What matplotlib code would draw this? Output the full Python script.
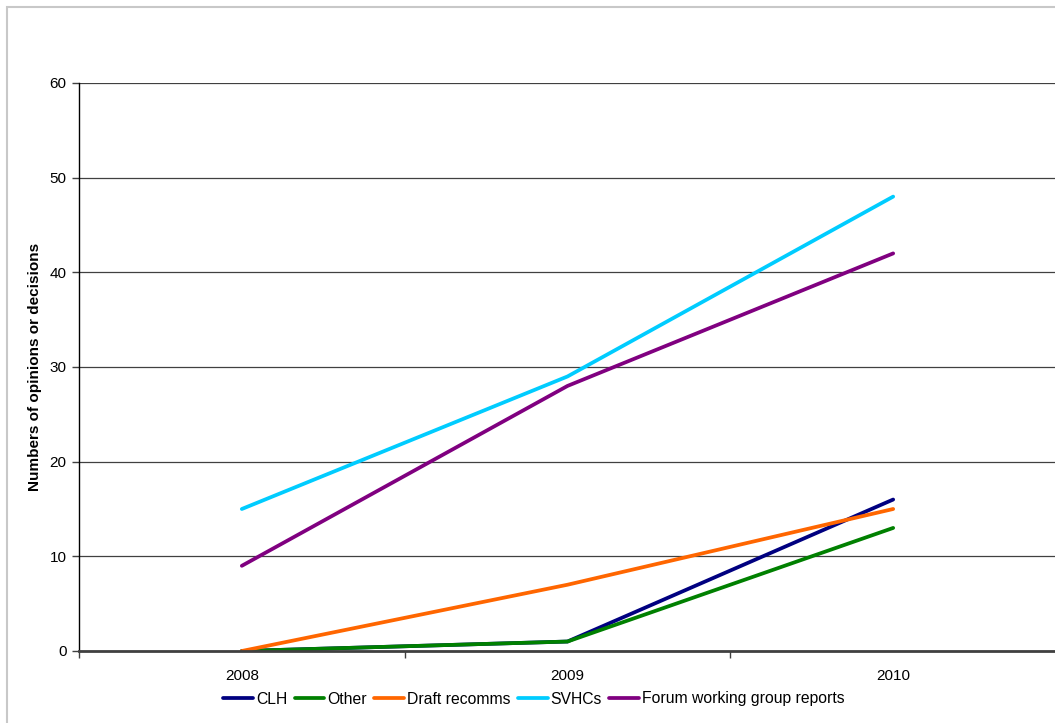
import matplotlib.pyplot as plt
from matplotlib.patches import Rectangle

plt.rcParams['font.family'] = ['Liberation Sans', 'DejaVu Sans']

years = ['2008', '2009', '2010']
clh = [0, 1, 16]
other = [0, 1, 13]
draft_recomms = [0, 7, 15]
svhcs = [15, 29, 48]
forum_reports = [9, 28, 42]

series = [
    ('CLH', clh, '#000080'),
    ('Other', other, '#008000'),
    ('Draft recomms', draft_recomms, '#FF6600'),
    ('SVHCs', svhcs, '#00CCFF'),
    ('Forum working group reports', forum_reports, '#800080'),
]

W, H = 1055, 723
fig = plt.figure(figsize=(W / 100, H / 100), dpi=100)
ax = fig.add_axes([79 / W, 1 - 651 / H, (1056 - 79) / W, (651 - 83) / H])

# outer chart frame
fig.patches.append(Rectangle((7 / W, -0.1), 1.2, 1 - 7 / H + 0.1,
                             transform=fig.transFigure, fill=False,
                             edgecolor='#c8c8c8', linewidth=1.5))

x = list(range(len(years)))
for name, vals, col in series:
    ax.plot(x, vals, color=col, linewidth=2.7, label=name,
            solid_capstyle='round', solid_joinstyle='miter')

ax.set_xlim(-0.5, len(years) - 0.5)
ax.set_ylim(0, 60)
ax.set_yticks(range(0, 61, 10))
ax.set_xticks(x)
ax.set_xticklabels(years)
ax.set_xticks([i - 0.5 for i in range(len(years) + 1)], minor=True)
ax.tick_params(axis='x', which='major', length=0, pad=13, labelsize=11)
ax.tick_params(axis='x', which='minor', length=5, width=1, color='#404040')
ax.tick_params(axis='y', length=5, width=1, color='#404040', labelsize=11, pad=4)

ax.grid(axis='y', color='#404040', linewidth=0.9)
ax.set_axisbelow(True)
for s in ['top', 'right']:
    ax.spines[s].set_visible(False)
ax.spines['left'].set_color('black')
ax.spines['left'].set_linewidth(1)
ax.spines['bottom'].set_color('#404040')
ax.spines['bottom'].set_linewidth(2)

ax.set_ylabel('Numbers of opinions or decisions', fontsize=11,
              fontweight='bold')
ax.yaxis.set_label_coords((42 - 79) / (1056 - 79), 0.5)

fig.legend(loc='center', bbox_to_anchor=(534 / W, 1 - 699 / H), ncol=5,
           frameon=False, fontsize=11.3, handlelength=1.9, handletextpad=0.2,
           columnspacing=0.45)

fig.savefig('out.png', dpi=100)
